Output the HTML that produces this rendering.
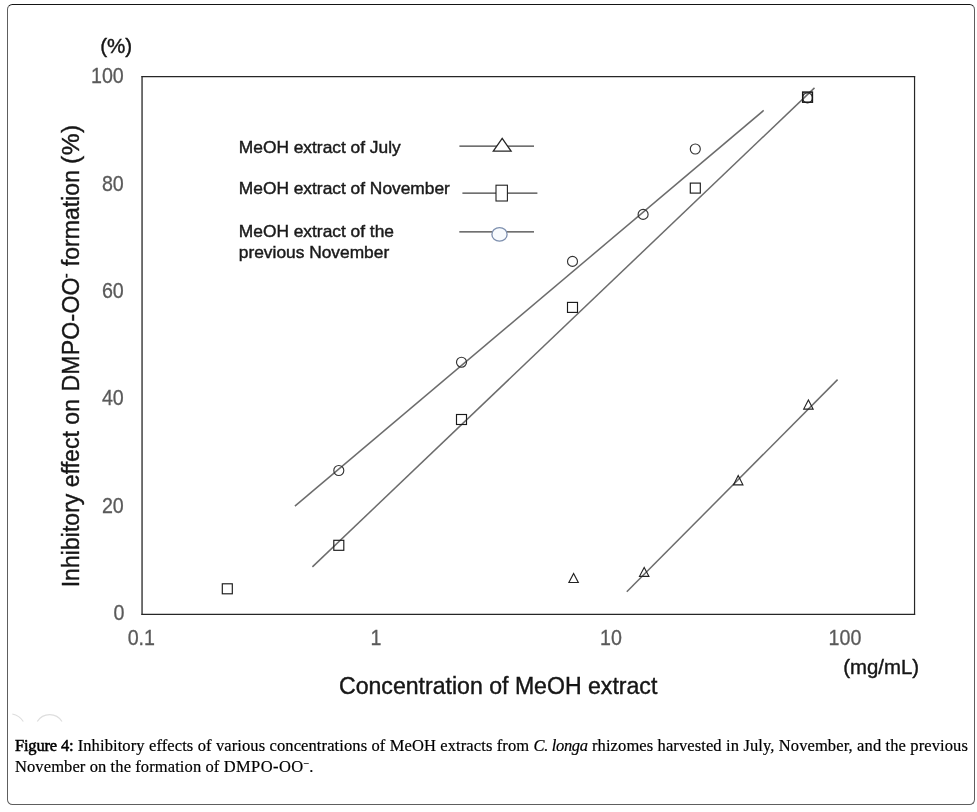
<!DOCTYPE html>
<html>
<head>
<meta charset="utf-8">
<title>Figure 4</title>
<style>
html,body{margin:0;padding:0;background:#fff;}
body{width:977px;height:812px;position:relative;overflow:hidden;font-family:"Liberation Sans",sans-serif;}
#frame{position:absolute;left:7px;top:4px;width:966px;height:799px;border:1px solid #5e5e5e;border-top-color:#151515;border-radius:5.5px;box-sizing:content-box;}
svg{position:absolute;left:0;top:0;}
svg text{font-family:"Liberation Sans",sans-serif;}
.tick{font-size:21.6px;fill:#5a5a5a;stroke:#5a5a5a;stroke-width:0.3px;}
.dark{fill:#161616;stroke:#161616;stroke-width:0.4px;}
.leg{font-size:17.35px;fill:#1a1a1a;stroke:#1a1a1a;stroke-width:0.45px;}
#cap{position:absolute;left:15px;top:735px;width:953px;font-family:"Liberation Serif",serif;font-size:16.5px;line-height:21px;color:#000;text-align:justify;letter-spacing:0.1px;-webkit-text-stroke:0.2px #000;}
#cap .l1{white-space:nowrap;text-align:justify;text-align-last:justify;}
#cap .l2{white-space:nowrap;text-align:left;}
#cap .fb{-webkit-text-stroke:0.5px #000;letter-spacing:-0.2px;}
#cap i{letter-spacing:-0.35px;}
#cap sup{font-size:10px;line-height:0;vertical-align:baseline;position:relative;top:-5px;}
</style>
</head>
<body>
<div id="frame"></div>
<svg width="977" height="812" viewBox="0 0 977 812">
  <!-- faint arcs -->
  <g stroke="#dedede" stroke-width="1.2" fill="none">
    <path d="M12.3 714 Q19.5 715.5 23.3 721.5"/>
    <path d="M37.3 721.5 A14.5 14.5 0 0 1 62 721.5"/>
  </g>
  <!-- plot box -->
  <g stroke="#262626" stroke-width="1.2" fill="none" stroke-linecap="square">
    <line x1="142.05" y1="76.55" x2="914.55" y2="76.55"/>
    <line x1="914.55" y1="76.55" x2="914.55" y2="614.45"/>
    <line x1="142.05" y1="614.45" x2="914.55" y2="614.45"/>
    <line x1="142.05" y1="76.55" x2="142.05" y2="614.45" stroke-width="1.3"/>
  </g>
  <!-- fitted lines -->
  <g stroke="#6c6c6c" stroke-width="1.5" fill="none">
    <line x1="294.9" y1="506.1" x2="763.7" y2="110.4"/>
    <line x1="312.4" y1="566.9" x2="814.5" y2="87.9"/>
    <line x1="626.8" y1="591.8" x2="837.6" y2="379.6"/>
  </g>
  <!-- circles -->
  <g stroke="#333" stroke-width="1.15" fill="none">
    <circle cx="338.8" cy="470.5" r="5"/>
    <circle cx="461.5" cy="362.2" r="5"/>
    <circle cx="572.5" cy="261.4" r="5"/>
    <circle cx="643.1" cy="214.4" r="5"/>
    <circle cx="695.3" cy="149" r="5"/>
    <circle cx="807.5" cy="97.8" r="5"/>
  </g>
  <!-- squares -->
  <g stroke="#1a1a1a" stroke-width="1.15" fill="none">
    <rect x="222.3" y="583.8" width="10" height="10"/>
    <rect x="333.8" y="540.3" width="10" height="10"/>
    <rect x="456.5" y="414.5" width="10" height="10"/>
    <rect x="567.5" y="302.4" width="10" height="10"/>
    <rect x="690.3" y="183.1" width="10" height="10"/>
    <rect x="802.7" y="92.1" width="9.7" height="10.1" stroke-width="1.5"/>
  </g>
  <!-- triangles -->
  <g stroke="#222" stroke-width="1.15" fill="none" stroke-linejoin="miter">
    <path d="M573.6 573.6 L578.3 582.5 L568.9 582.5 Z"/>
    <path d="M644.2 567.4 L648.9 576.3 L639.5 576.3 Z"/>
    <path d="M738.2 475.5 L742.9 484.8 L733.5 484.8 Z"/>
    <path d="M808.4 399.9 L813.1 409.1 L803.7 409.1 Z"/>
  </g>
  <!-- legend -->
  <g stroke="#404040" stroke-width="1.25">
    <line x1="459.4" y1="146.15" x2="534" y2="146.15"/>
    <line x1="462.4" y1="193" x2="537.4" y2="193"/>
    <line x1="459.3" y1="231.8" x2="534" y2="231.8"/>
  </g>
  <path d="M502.2 138.3 L511.1 151.1 L493.3 151.1 Z" fill="#fff" stroke="#262626" stroke-width="1.3"/>
  <rect x="496" y="185.2" width="11.4" height="15.8" fill="#fff" stroke="#222" stroke-width="1.1"/>
  <ellipse cx="499.5" cy="234.4" rx="7.6" ry="6.8" fill="#f8fbfe" stroke="#7d8fae" stroke-width="1.3"/>
  <text class="leg" x="238.8" y="153.4">MeOH extract of July</text>
  <text class="leg" x="238.8" y="194.2">MeOH extract of November</text>
  <text class="leg" x="238.8" y="237.0">MeOH extract of the</text>
  <text class="leg" x="238.8" y="257.5">previous November</text>
  <!-- y tick labels -->
  <g class="tick" text-anchor="end" transform="scale(0.91 1)">
    <text x="136.04" y="83.25">100</text>
    <text x="136.04" y="190.65">80</text>
    <text x="136.04" y="298.05">60</text>
    <text x="136.04" y="405.45">40</text>
    <text x="136.04" y="512.85">20</text>
    <text x="136.81" y="620.25">0</text>
  </g>
  <!-- x tick labels -->
  <g class="tick" text-anchor="middle" transform="scale(0.91 1)">
    <text x="155.27" y="644.6">0.1</text>
    <text x="413.19" y="644.6">1</text>
    <text x="671.43" y="644.6">10</text>
    <text x="928.57" y="644.6">100</text>
  </g>
  <text class="dark" x="100.2" y="53.4" font-size="20.6">(%)</text>
  <text class="dark" x="843.3" y="674" font-size="20.35">(mg/mL)</text>
  <text class="dark" x="339" y="694.4" font-size="23.1">Concentration of MeOH extract</text>
  <text class="dark" transform="translate(79.2 587.3) rotate(-90)" font-size="23.1">Inhibitory effect on <tspan dx="1" letter-spacing="0.2">DMPO-OO</tspan><tspan font-size="15" dy="-8.5" dx="-0.9">-</tspan><tspan dy="8.5" dx="0.5"> formation </tspan><tspan font-size="24.6" letter-spacing="0.55" dx="-0.5">(%)</tspan></text>
</svg>
<div id="cap"><div class="l1"><span class="fb">Figure 4:</span> Inhibitory effects of various concentrations of MeOH extracts from <i>C. longa</i> rhizomes harvested in July, November, and the previous</div><div class="l2">November on the formation of <span style="letter-spacing:0.42px">DMPO-OO</span><sup>−</sup>.</div></div>
</body>
</html>
